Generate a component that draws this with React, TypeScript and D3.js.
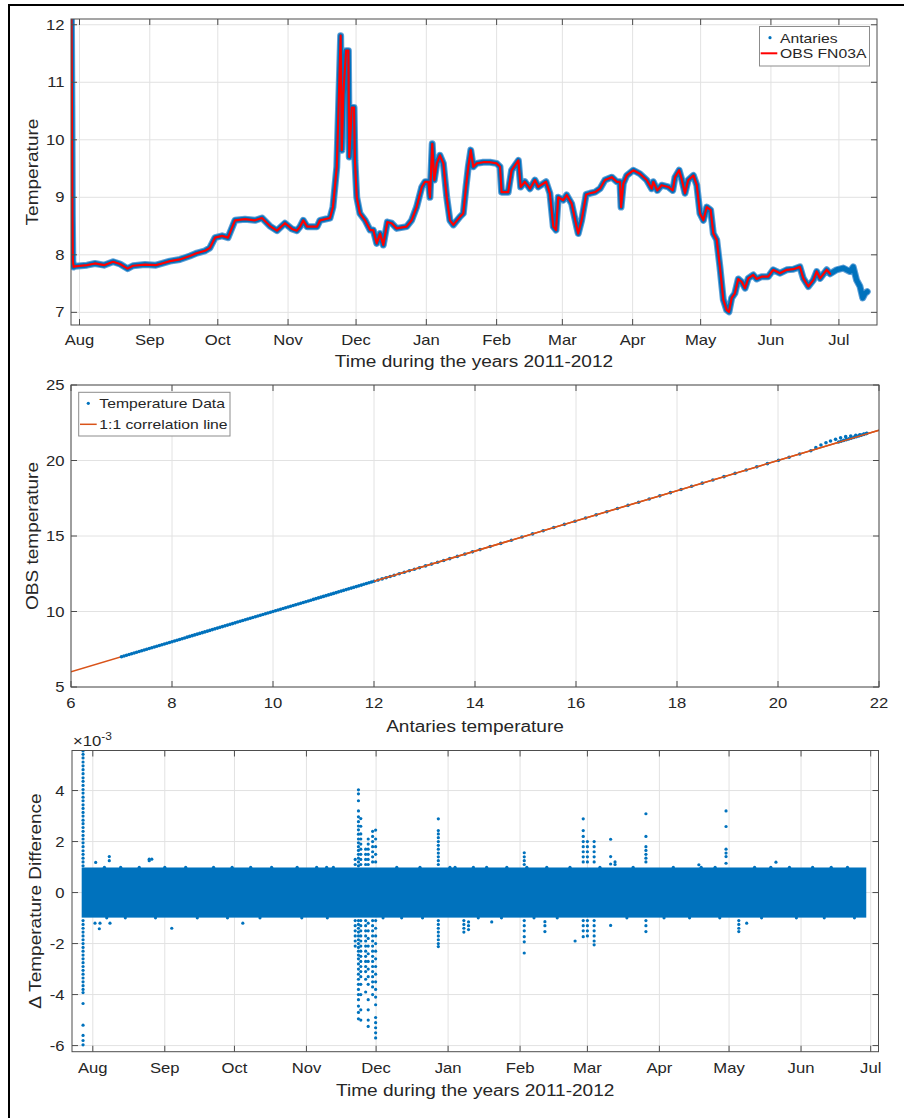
import React from 'react';
import * as d3 from 'd3';

// ---------- shared ----------
const MONTH_LABELS = ['Aug', 'Sep', 'Oct', 'Nov', 'Dec', 'Jan', 'Feb', 'Mar', 'Apr', 'May', 'Jun', 'Jul'];
const MONTH_TICKS = ['2011-08-01', '2011-09-01', '2011-10-01', '2011-11-01', '2011-12-01', '2012-01-01',
  '2012-02-01', '2012-03-01', '2012-04-01', '2012-05-01', '2012-06-01', '2012-07-01'];
const BASE = Date.UTC(2011, 7, 1);
const DAY = 86400000;
const dayToDate = (d: number) => new Date(BASE + d * DAY);

// ---------- panel 1: temperature time series (days since 2011-08-01) ----------
const antariesDays = [-3.55, -3.35, -3.15, -2.95, -2.6, -2.0, 3.3, 6.8, 10.8, 14.8, 17.9, 21.2, 23.6, 28.9, 33.7, 36.4,
  39.9, 44.3, 48.7, 51.8, 55.4, 57.5, 59.8, 62.9, 65.5, 68.6, 73, 77.4, 80.5, 84, 87.1, 90.6, 93.7, 95.9, 97.3, 98.7,
  100.4, 104.8, 106.1, 110.5, 111.8, 113.5, 114.2, 115.2, 115.7, 116.4, 117.6, 118.6, 119.0, 120.1, 121.1, 121.5,
  122.3, 123.7, 126.0, 128.2, 129.6, 131.1, 132.6, 134.0, 135.8, 137.7, 139.9, 144.3, 146.5, 148.7, 151.0, 152.4,
  153.9, 154.6, 155.6, 156.5, 157.6, 159.0, 160.5, 162.0, 163.4, 164.9, 167.8, 169.3, 170.5, 171.5, 172.6, 173.7,
  175.2, 178.1, 181.1, 184.0, 185.5, 186.2, 189.1, 190.6, 193.6, 194.6, 196.5, 198.7, 200.9, 202.4, 205.8, 207.5,
  209.0, 210.2, 211.2, 213.4, 214.9, 217.1, 219.3, 220.0, 221.5, 223.5, 225.2, 227.4, 229.6, 231.8, 234.8, 237.0,
  238.4, 238.9, 239.9, 241.4, 244.3, 247.2, 250.2, 252.4, 253.1, 254.9, 256.8, 259.7, 261.7, 262.7, 264.5, 265.6,
  267.1, 268.5, 270.8, 272.3, 273.7, 275.2, 276.7, 278.4, 279.6, 281.1, 282.5, 284.0, 285.5, 286.5, 287.7, 289.1,
  290.6, 292.1, 293.6, 295.0, 297.2, 298.7, 300.9, 303.8, 306.0, 309.0, 312.0, 314.9, 317.8, 319.3, 321.5, 323.7,
  325.2, 326.7, 329.6, 331.1, 334.0, 336.9, 339.9, 341.3, 342.8, 344.3, 345.5, 346.5, 347.5];
const antariesVals = [12.12, 10.6, 8.7, 7.9, 7.79, 7.8, 7.82, 7.85, 7.82, 7.88, 7.84, 7.76, 7.81, 7.83, 7.82, 7.85,
  7.89, 7.92, 7.98, 8.03, 8.07, 8.12, 8.3, 8.33, 8.3, 8.6, 8.62, 8.6, 8.64, 8.5, 8.42, 8.55, 8.45, 8.42, 8.49, 8.6,
  8.49, 8.49, 8.6, 8.64, 8.83, 9.53, 10.46, 11.81, 9.82, 10.8, 11.55, 11.55, 9.7, 10.56, 10.56, 9.64,
  9.0, 8.72, 8.6, 8.43, 8.43, 8.2, 8.37, 8.17, 8.57, 8.55, 8.46, 8.49, 8.6, 8.83, 9.18, 9.27,
  9.27, 9.0, 9.93, 9.3, 9.59, 9.73, 9.59, 9.0, 8.6, 8.52, 8.66, 8.72, 9.18, 9.53, 9.82, 9.53,
  9.59, 9.61, 9.61, 9.59, 9.53, 9.09, 9.09, 9.47, 9.64, 9.18, 9.27, 9.15, 9.3, 9.18, 9.27, 9.07,
  8.49, 8.43, 9.0, 8.95, 9.04, 8.89, 8.49, 8.37, 8.6, 9.05, 9.07, 9.09, 9.15, 9.3, 9.35, 9.27,
  9.27, 8.83, 9.24, 9.38, 9.47, 9.41, 9.3, 9.15, 9.27, 9.12, 9.21, 9.18, 9.12, 9.35, 9.47, 9.32,
  9.07, 9.3, 9.38, 9.21, 8.72, 8.6, 8.83, 8.78, 8.37, 8.26, 7.79, 7.22, 7.04, 7.01, 7.25, 7.33,
  7.58, 7.53, 7.42, 7.59, 7.65, 7.58, 7.62, 7.62, 7.74, 7.68, 7.74, 7.75, 7.79, 7.59, 7.45, 7.56,
  7.71, 7.59, 7.74, 7.67, 7.74, 7.77, 7.71, 7.79, 7.56, 7.45, 7.25, 7.33, 7.36];
const obsLastDay = 333; // OBS FN03A record ends before the Antaries one
const p1YTicks = [7, 8, 9, 10, 11, 12];

// ---------- panel 2: scatter ----------
const onLineTemps = [
  7.0, 7.05, 7.1, 7.15, 7.2, 7.25, 7.3, 7.35, 7.4, 7.45, 7.5, 7.55, 7.6, 7.65, 7.7, 7.75, 7.8, 7.85, 7.9, 7.95,
  8.0, 8.05, 8.1, 8.15, 8.2, 8.25, 8.3, 8.35, 8.4, 8.45, 8.5, 8.55, 8.6, 8.65, 8.7, 8.75, 8.8, 8.85, 8.9, 8.95,
  9.0, 9.05, 9.1, 9.15, 9.2, 9.25, 9.3, 9.35, 9.4, 9.45, 9.5, 9.55, 9.6, 9.65, 9.7, 9.75, 9.8, 9.85, 9.9, 9.95,
  10.0, 10.05, 10.1, 10.15, 10.2, 10.25, 10.3, 10.35, 10.4, 10.45, 10.5, 10.55, 10.6, 10.65, 10.7, 10.75, 10.8,
  10.85, 10.9, 10.95, 11.0, 11.05, 11.1, 11.15, 11.2, 11.25, 11.3, 11.35, 11.4, 11.45, 11.5, 11.55, 11.6, 11.65,
  11.7, 11.75, 11.8, 11.85, 11.9, 11.95, 12.0, 12.08, 12.16, 12.24, 12.32, 12.4, 12.5, 12.6, 12.7, 12.8, 12.9,
  13.02, 13.14, 13.26, 13.38, 13.5, 13.65, 13.8, 13.95, 14.1, 14.3, 14.51, 14.72, 14.93, 15.14, 15.35, 15.56,
  15.77, 15.98, 16.19, 16.4, 16.61, 16.82, 17.03, 17.24, 17.45, 17.66, 17.87, 18.08, 18.29, 18.5, 18.71, 18.93,
  19.15, 19.37, 19.58, 19.79, 20.01, 20.22, 20.43, 20.65];
const upperAnt = [20.75, 20.85, 20.95, 21.04, 21.14, 21.24, 21.34, 21.44, 21.54, 21.62, 21.7, 21.76];
const upperObs = [20.85, 21.03, 21.18, 21.29, 21.4, 21.51, 21.58, 21.62, 21.67, 21.71, 21.75, 21.8];
const lowerAnt = [21.2, 21.25, 21.3, 21.35, 21.4, 21.45, 21.5, 21.55, 21.6, 21.65, 21.7, 21.75];
const lowerObs = [21.23, 21.28, 21.33, 21.38, 21.43, 21.48, 21.53, 21.58, 21.63, 21.68, 21.73, 21.78];
const corrLine = [6, 22];
const p2XTicks = [6, 8, 10, 12, 14, 16, 18, 20, 22];
const p2YTicks = [5, 10, 15, 20, 25];

// ---------- panel 3: difference (x1e-3) ----------
const bandDays = [-4.1, 332.4];
const bandVals = [-0.92, 0.92];
const diffColumns: [number, number[]][] = [
  [-4.2, [5.55, 5.42, 5.28, 5.12, 4.97, 4.82, 4.66, 4.5, 4.36, 4.2, 4.04, 3.9, 3.74, 3.6, 3.44, 3.3, 3.14, 3.0, 2.84, 2.7,
    2.55, 2.4, 2.24, 2.1, 1.95, 1.8, 1.64, 1.5, 1.35, 1.2, 1.05,
    -1.1, -1.25, -1.4, -1.55, -1.7, -1.85, -2.0, -2.15, -2.3, -2.45, -2.6, -2.75, -2.9, -3.05, -3.2, -3.35, -3.5, -3.65,
    -3.8, -3.92, -4.35, -5.2, -5.6, -5.8, -5.97]],
  [1.25, [1.18]], [0.95, [-1.2]], [3.1, [-1.2]], [2.8, [-1.42]], [7.1, [1.41, 1.25]], [7.4, [-1.2]],
  [24.3, [1.31, 1.25]], [25.4, [1.31]], [34, [-1.4]], [64.6, [-1.2]],
  [113.0, [1.3, 1.1, -1.1, -1.3, -1.5, -1.7, -1.9, -2.1]],
  [114.4, [4.03, 3.87, 3.6, 3.2, 2.97, 2.78, 2.61, 2.46, 2.29, 2.1, 1.95, 1.8, 1.65, 1.5, 1.35, 1.2, 1.05,
    -1.1, -1.25, -1.4, -1.55, -1.7, -1.85, -2.0, -2.15, -2.3, -2.45, -2.6, -2.8, -3.0, -3.2, -3.4, -3.6, -3.8, -4.0,
    -4.2, -4.45, -4.7, -4.95]],
  [115.4, [2.9, 2.6, 2.3, 2.1, 1.9, 1.7, 1.5, 1.3, 1.1, -1.1, -1.3, -1.5, -1.7, -1.9, -2.1, -2.3, -2.5, -2.7, -2.9,
    -3.1, -3.3, -3.6, -4.0, -4.6, -5.0]],
  [117.5, [1.7, 1.5, 1.3, 1.1, -1.1, -1.3, -1.5, -1.7, -1.9, -2.1, -2.3, -2.5, -2.7, -2.9, -3.1, -3.4, -3.9]],
  [118.6, [2.1, 1.9, 1.7, 1.5, 1.3, 1.1, -1.2, -1.5, -1.8, -2.1, -2.4, -2.7, -3.0, -3.3, -3.6, -4.2, -4.6, -5.0, -5.25]],
  [120.5, [2.4, 2.2, 2.0, 1.8, 1.6, 1.4, 1.2, -1.1, -1.3, -1.5, -1.7, -1.9, -2.1, -2.3, -2.5, -2.7, -2.9, -3.1, -3.3,
    -3.5, -3.7, -4.0]],
  [121.8, [2.45, 2.1, 1.8, 1.5, 1.2, -1.1, -1.4, -1.7, -2.0, -2.3, -2.6, -2.9, -3.2, -3.5, -3.8, -4.1, -4.4, -4.9, -5.1,
    -5.3, -5.5, -5.7]],
  [148.8, [2.89, 2.43, 2.3, 2.15, 2.0, 1.85, 1.7, 1.55, 1.4, 1.25, 1.1, -1.1, -1.25, -1.4, -1.55, -1.7, -1.85, -2.0, -2.12]],
  [159.8, [-1.1, -1.25, -1.4, -1.55]], [161.8, [-1.15, -1.3, -1.45]], [171.8, [-1.15]],
  [185.8, [1.56, 1.4, 1.25, 1.1, -1.1, -1.3, -1.5, -1.73, -1.93, -2.37]],
  [194.7, [-1.14, -1.3, -1.53]], [207.7, [-1.9]],
  [211.2, [2.89, 2.43, 2.2, 2.0, 1.8, 1.6, 1.4, 1.2, -1.1, -1.3, -1.5, -1.73]],
  [213.0, [2.0, 1.8, 1.6, 1.4, 1.2, -1.1, -1.3, -1.5, -1.7]],
  [215.9, [2.0, 1.8, 1.6, 1.4, 1.2, -1.1, -1.3, -1.5, -1.7, -1.9, -2.05]],
  [223.0, [2.09, 1.41, 1.12, -1.29]], [224.9, [1.2, 1.1]],
  [238.2, [3.09, 2.2, 1.8, 1.65, 1.5, 1.35, 1.2, -1.1, -1.3, -1.53]],
  [261.0, [1.09]], [272.7, [3.2, 2.59, 1.7, 1.55, 1.41, 1.15]],
  [278.2, [-1.1, -1.25, -1.4, -1.53]], [281.6, [-1.2]], [294.2, [1.19]],
];
const bumpDaysTop = [5, 12, 20, 31, 40, 52, 60, 68, 77, 88, 96.4, 100.7, 103.6, 130.9, 140.9, 153.8, 156, 163.9,
  169.6, 178.3, 186.9, 195.5, 205.5, 218.4, 232.7, 250, 262, 268, 285, 292, 300, 310, 318, 325];
const bumpDaysBottom = [6, 14, 27, 45, 58, 72, 90, 101, 125, 133, 142, 166, 176, 190, 200, 230, 246, 257, 270,
  288, 303, 315, 328];
const p3YTicks = [-6, -4, -2, 0, 2, 4];

// ---------- styling ----------
const FONT = "'Liberation Sans', Arial, Helvetica, sans-serif";
const SX = 1.19;
const AX = '#262626';
const BLUE = '#0072BD';
const RED = '#FF0000';
const ORANGE = '#D95319';
const GRID = '#e2e2e2';
const TICK_FS = 14;
const LABEL_FS = 16;
const LEG_FS = 13.2;

function T({ x, y, size, anchor = 'start', rot = 0, children, fill = AX }: any) {
  return (
    <g transform={`translate(${x},${y}) rotate(${rot}) scale(${SX},1)`}>
      <text textAnchor={anchor} fontSize={size} fill={fill} fontFamily={FONT}>{children}</text>
    </g>
  );
}

function Frame({ l, r, t, b, xs, ys, xt, yt }: any) {
  const tl = 6;
  return (
    <g stroke="#4d4d4d" strokeWidth={1} fill="none">
      <rect x={l} y={t} width={r - l} height={b - t} />
      {xt.map((v: any, i: number) => (
        <g key={'x' + i}>
          <line x1={xs(v)} x2={xs(v)} y1={b} y2={b - tl} />
          <line x1={xs(v)} x2={xs(v)} y1={t} y2={t + tl} />
        </g>
      ))}
      {yt.map((v: any, i: number) => (
        <g key={'y' + i}>
          <line x1={l} x2={l + tl} y1={ys(v)} y2={ys(v)} />
          <line x1={r} x2={r - tl} y1={ys(v)} y2={ys(v)} />
        </g>
      ))}
    </g>
  );
}

function Grid({ l, r, t, b, xs, ys, xt, yt }: any) {
  return (
    <g stroke={GRID} strokeWidth={1}>
      {xt.map((v: any, i: number) => <line key={'gx' + i} x1={xs(v)} x2={xs(v)} y1={t} y2={b} />)}
      {yt.map((v: any, i: number) => <line key={'gy' + i} x1={l} x2={r} y1={ys(v)} y2={ys(v)} />)}
    </g>
  );
}

export default function App() {
  const monthDates = MONTH_TICKS.map((s) => new Date(s + 'T00:00:00Z'));

  // panel 1
  const p1 = { l: 71, r: 877, t: 19, b: 325 };
  const x1 = d3.scaleUtc().domain([dayToDate(-3.75), dayToDate(351.8)]).range([p1.l, p1.r]);
  const y1 = d3.scaleLinear().domain([6.78, 12.1]).range([p1.b, p1.t]);
  const ant = antariesDays.map((d, i) => [d, antariesVals[i]] as [number, number]);
  const obs = ant.filter((p) => p[0] <= obsLastDay);
  const line1 = d3.line<[number, number]>().x((p) => x1(dayToDate(p[0]))).y((p) => y1(p[1]));

  // panel 2
  const p2 = { l: 71, r: 879, t: 385, b: 687 };
  const x2 = d3.scaleLinear().domain([6, 22]).range([p2.l, p2.r]);
  const y2 = d3.scaleLinear().domain([5, 25]).range([p2.b, p2.t]);
  const pts2: [number, number][] = [
    ...onLineTemps.map((v) => [v, v] as [number, number]),
    ...upperAnt.map((v, i) => [v, upperObs[i]] as [number, number]),
    ...lowerAnt.map((v, i) => [v, lowerObs[i]] as [number, number]),
  ];

  // panel 3
  const p3 = { l: 72, r: 878.5, t: 750.5, b: 1051.7 };
  const x3 = d3.scaleUtc().domain([dayToDate(-8.96), dayToDate(338.36)]).range([p3.l, p3.r]);
  const y3 = d3.scaleLinear().domain([-6.24, 5.57]).range([p3.b, p3.t]);
  const r3 = 1.6;
  const pts3: [number, number][] = [];
  diffColumns.forEach(([d, vals]) => vals.forEach((v) => pts3.push([d, v])));
  bumpDaysTop.forEach((d) => pts3.push([d, 0.99]));
  bumpDaysBottom.forEach((d) => pts3.push([d, -0.99]));

  return (
    <svg width={904} height={1118} style={{ position: 'absolute', left: 0, top: 0, background: '#fff' }}
      fontFamily={FONT}>
      <defs>
        <clipPath id="c1"><rect x={p1.l} y={p1.t} width={p1.r - p1.l} height={p1.b - p1.t} /></clipPath>
        <clipPath id="c2"><rect x={p2.l} y={p2.t} width={p2.r - p2.l} height={p2.b - p2.t} /></clipPath>
        <clipPath id="c3"><rect x={p3.l} y={p3.t} width={p3.r - p3.l} height={p3.b - p3.t} /></clipPath>
      </defs>
      <rect x={0} y={0} width={904} height={1118} fill="#fff" />
      <rect x={9} y={5} width={910} height={1130} fill="none" stroke="#000" strokeWidth={2} />

      {/* ---------- Panel 1 ---------- */}
      <Grid {...p1} xs={x1} ys={y1} xt={monthDates} yt={p1YTicks} />
      <g clipPath="url(#c1)" fill="none" strokeLinejoin="round" strokeLinecap="round">
        <path d={line1(ant) || ''} stroke="#5e9fd6" strokeWidth={7} />
        <path d={line1(ant) || ''} stroke={BLUE} strokeWidth={5} />
        <path d={line1(obs) || ''} stroke={RED} strokeWidth={2.2} />
      </g>
      <Frame {...p1} xs={x1} ys={y1} xt={monthDates} yt={p1YTicks} />
      {p1YTicks.map((v) => <T key={v} x={64.5} y={y1(v) + 5} size={TICK_FS} anchor="end">{v}</T>)}
      {monthDates.map((d, i) => <T key={i} x={x1(d)} y={p1.b + 20} size={TICK_FS} anchor="middle">{MONTH_LABELS[i]}</T>)}
      <T x={(p1.l + p1.r) / 2} y={367} size={LABEL_FS} anchor="middle">Time during the years 2011-2012</T>
      <T x={38} y={(p1.t + p1.b) / 2} size={LABEL_FS} anchor="middle" rot={-90}>Temperature</T>
      <g>
        <rect x={759.5} y={26.5} width={110} height={39.5} fill="#fff" stroke="#8c8c8c" strokeWidth={1} />
        <circle cx={770} cy={37.7} r={1.6} fill={BLUE} />
        <T x={780} y={42.5} size={LEG_FS}>Antaries</T>
        <line x1={760.7} x2={777.3} y1={53.3} y2={53.3} stroke={RED} strokeWidth={2} />
        <T x={780} y={58.3} size={LEG_FS}>OBS FN03A</T>
      </g>

      {/* ---------- Panel 2 ---------- */}
      <Grid {...p2} xs={x2} ys={y2} xt={p2XTicks} yt={p2YTicks} />
      <g clipPath="url(#c2)">
        <line x1={x2(corrLine[0])} y1={y2(corrLine[0])} x2={x2(corrLine[1])} y2={y2(corrLine[1])}
          stroke={ORANGE} strokeWidth={1.5} />
        {pts2.map((p, i) => <circle key={i} cx={x2(p[0])} cy={y2(p[1])} r={1.8} fill={BLUE} />)}
        <line x1={x2(12)} y1={y2(12)} x2={x2(corrLine[1])} y2={y2(corrLine[1])}
          stroke={ORANGE} strokeWidth={1.5} />
      </g>
      <Frame {...p2} xs={x2} ys={y2} xt={p2XTicks} yt={p2YTicks} />
      {p2YTicks.map((v) => <T key={v} x={64.5} y={y2(v) + 5} size={TICK_FS} anchor="end">{v}</T>)}
      {p2XTicks.map((v) => <T key={v} x={x2(v)} y={p2.b + 21} size={TICK_FS} anchor="middle">{v}</T>)}
      <T x={(p2.l + p2.r) / 2} y={732} size={LABEL_FS} anchor="middle">Antaries temperature</T>
      <T x={38} y={(p2.t + p2.b) / 2} size={LABEL_FS} anchor="middle" rot={-90}>OBS temperature</T>
      <g>
        <rect x={78.7} y={392.3} width={151.3} height={43.7} fill="#fff" stroke="#8c8c8c" strokeWidth={1} />
        <circle cx={88.3} cy={403.3} r={1.6} fill={BLUE} />
        <T x={99.3} y={408} size={LEG_FS}>Temperature Data</T>
        <line x1={80} x2={96.7} y1={424.3} y2={424.3} stroke={ORANGE} strokeWidth={1.5} />
        <T x={99.3} y={429} size={LEG_FS}>1:1 correlation line</T>
      </g>

      {/* ---------- Panel 3 ---------- */}
      <Grid {...p3} xs={x3} ys={y3} xt={monthDates} yt={p3YTicks} />
      <g clipPath="url(#c3)" fill={BLUE}>
        <rect x={x3(dayToDate(bandDays[0])) - r3} y={y3(bandVals[1]) - r3}
          width={x3(dayToDate(bandDays[1])) - x3(dayToDate(bandDays[0])) + 2 * r3}
          height={y3(bandVals[0]) - y3(bandVals[1]) + 2 * r3} />
        {pts3.map((p, i) => <circle key={i} cx={x3(dayToDate(p[0]))} cy={y3(p[1])} r={r3} />)}
      </g>
      <Frame {...p3} xs={x3} ys={y3} xt={monthDates} yt={p3YTicks} />
      {p3YTicks.map((v) => <T key={v} x={64.5} y={y3(v) + 5} size={TICK_FS} anchor="end">{v}</T>)}
      {monthDates.map((d, i) => <T key={i} x={x3(d)} y={p3.b + 21} size={TICK_FS} anchor="middle">{MONTH_LABELS[i]}</T>)}
      <T x={(p3.l + p3.r) / 2} y={1096} size={LABEL_FS} anchor="middle">Time during the years 2011-2012</T>
      <T x={41} y={(p3.t + p3.b) / 2} size={LABEL_FS} anchor="middle" rot={-90}>Δ Temperature Difference</T>
      <g transform={`translate(73,746) scale(${SX},1)`}>
        <text fontSize={TICK_FS} fill={AX} fontFamily={FONT}>×10<tspan dy={-6} fontSize={10}>-3</tspan></text>
      </g>
    </svg>
  );
}
